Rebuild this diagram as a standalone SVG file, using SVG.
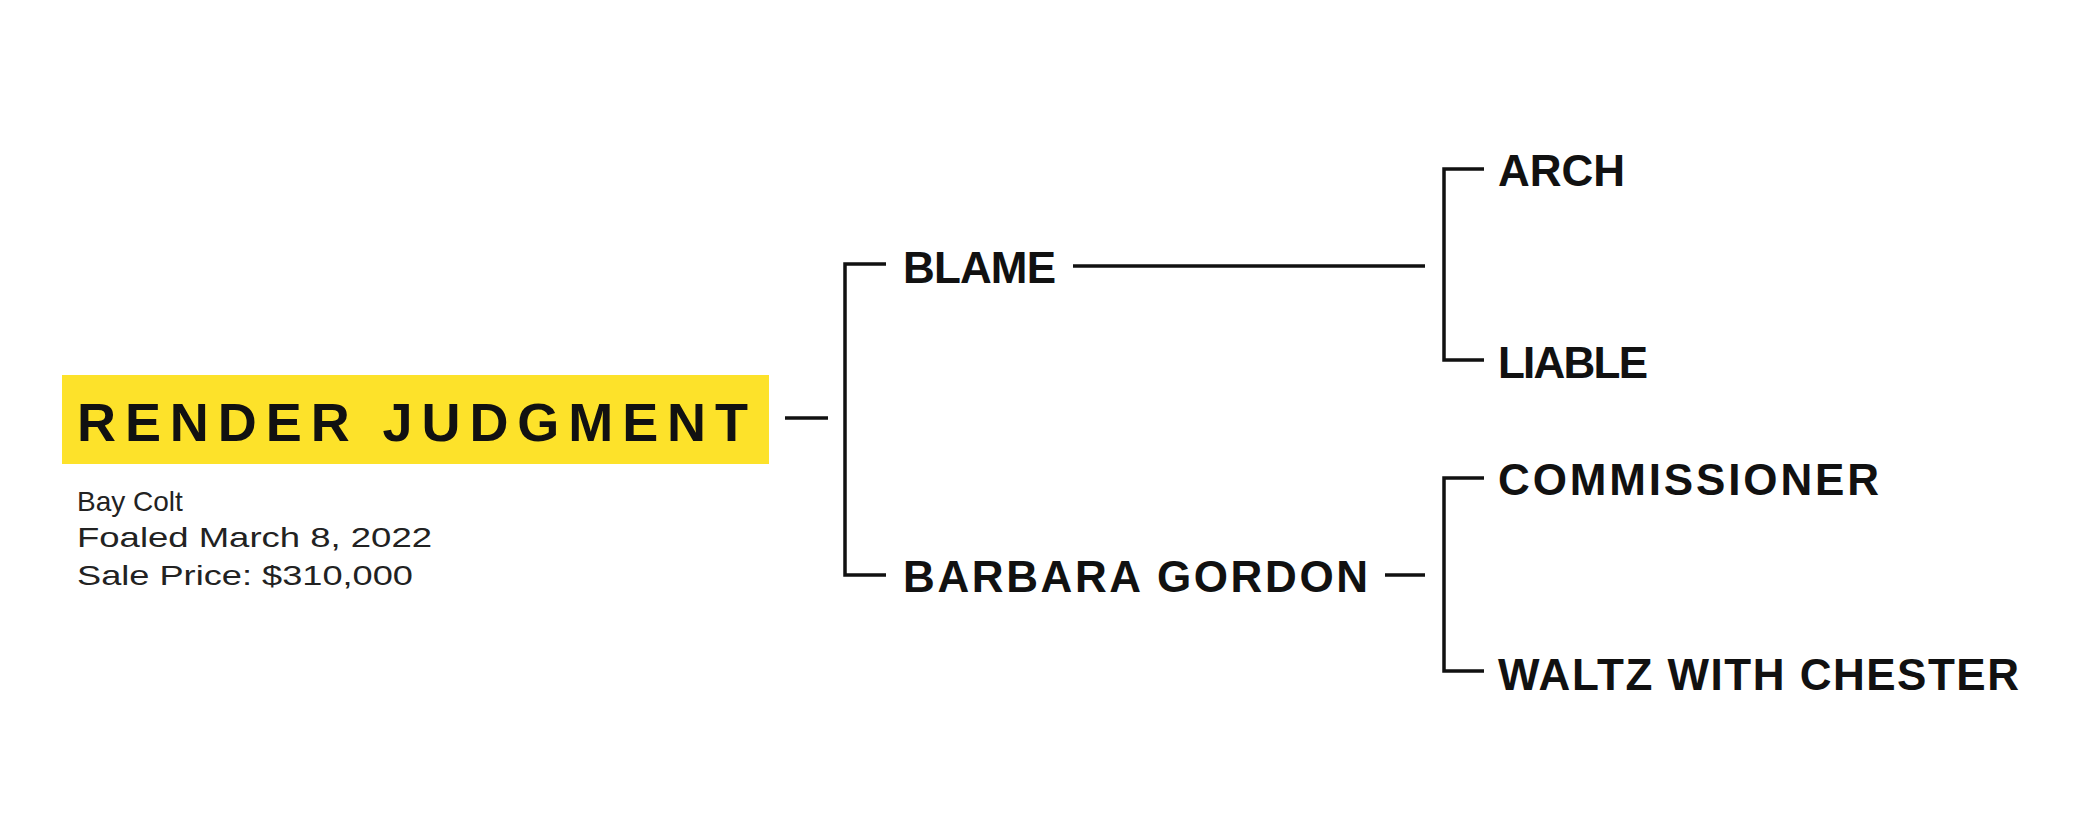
<svg xmlns="http://www.w3.org/2000/svg" width="2083" height="840" viewBox="0 0 2083 840">
<style>
.n{font-family:"Liberation Sans",Arial,sans-serif;font-weight:bold;font-size:44px;fill:#111}
.t{font-family:"Liberation Sans",Arial,sans-serif;font-weight:900;font-size:54px;fill:#111}
.s{font-family:"Liberation Sans",Arial,sans-serif;font-size:28px;fill:#222}
.c{stroke:#111;stroke-width:3.5;fill:none}
</style>
<rect width="2083" height="840" fill="#fff"/>
<g id="connectors" class="c">
<path d="M785 418H828"/>
<path d="M886 264H845V575H886"/>
<path d="M1073 266H1425"/>
<path d="M1385 575H1425"/>
<path d="M1484 169H1444V360H1484"/>
<path d="M1484 478H1444V671H1484"/>
</g>
<g id="render-judgment">
<rect x="62" y="375" width="707" height="89" fill="#fde22a"/>
<text class="t" x="77" y="441" textLength="671" lengthAdjust="spacing">RENDER JUDGMENT</text>
<text class="s" x="77" y="511">Bay Colt</text>
<text class="s" x="77" y="547" textLength="355" lengthAdjust="spacingAndGlyphs">Foaled March 8, 2022</text>
<text class="s" x="77" y="585" textLength="336" lengthAdjust="spacingAndGlyphs">Sale Price: $310,000</text>
</g>
<g id="blame"><text class="n" x="903" y="283" textLength="153" lengthAdjust="spacing">BLAME</text></g>
<g id="barbara-gordon"><text class="n" x="903" y="592" textLength="465" lengthAdjust="spacing">BARBARA GORDON</text></g>
<g id="arch"><text class="n" x="1498" y="186" textLength="127" lengthAdjust="spacing">ARCH</text></g>
<g id="liable"><text class="n" x="1498" y="378" textLength="150" lengthAdjust="spacing">LIABLE</text></g>
<g id="commissioner"><text class="n" x="1498" y="495" textLength="381" lengthAdjust="spacing">COMMISSIONER</text></g>
<g id="waltz-with-chester"><text class="n" x="1498" y="690" textLength="521" lengthAdjust="spacing">WALTZ WITH CHESTER</text></g>
</svg>
